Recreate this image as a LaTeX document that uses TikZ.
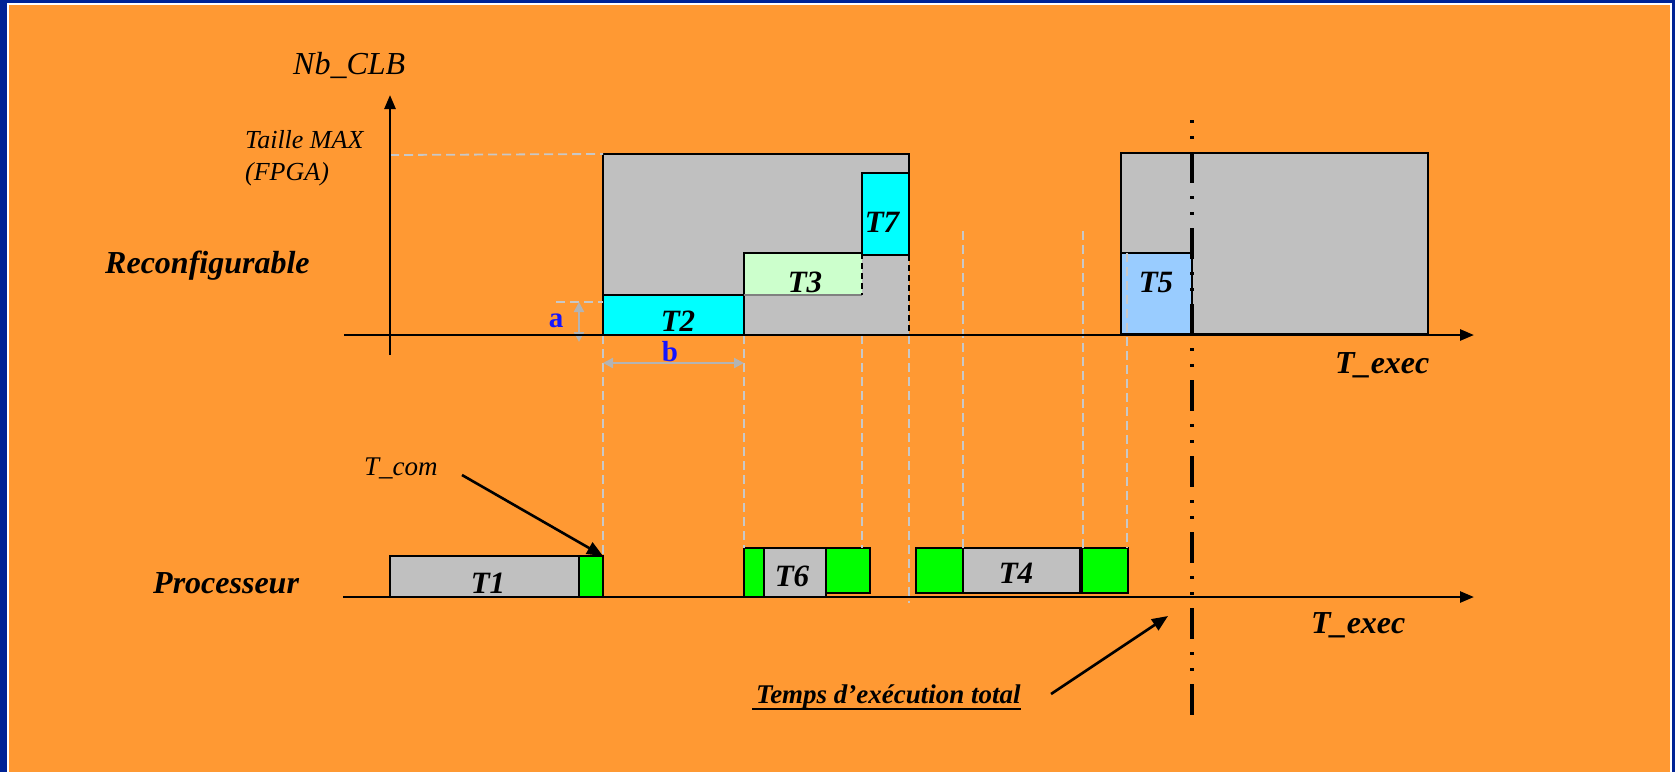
\documentclass[tikz,border=0pt]{standalone}
\usepackage{fontspec}
\setmainfont{Liberation Serif}
\usetikzlibrary{arrows.meta}

\definecolor{bgorange}{HTML}{FF9933}
\definecolor{frameblue}{HTML}{002396}
\definecolor{cellgray}{HTML}{C0C0C0}
\definecolor{comgreen}{HTML}{00FF00}
\definecolor{hwcyan}{HTML}{00FFFF}
\definecolor{palegreen}{HTML}{CCFFCC}
\definecolor{paleblue}{HTML}{99CCFF}
\definecolor{guidegray}{HTML}{C8C8C8}
\definecolor{dimgray}{HTML}{B4B4B4}
\definecolor{dimblue}{HTML}{1414FF}

\tikzset{
  box/.style={draw=black, line width=1.6pt, inner sep=0pt, outer sep=0pt},
  fillonly/.style={inner sep=0pt, outer sep=0pt},
  axisline/.style={line width=2.6pt, -{Triangle[length=14pt,width=11pt]}},
  pointer/.style={line width=2.6pt, -{Triangle[length=16pt,width=13pt]}},
  guide/.style={draw=guidegray, line width=1.8pt, dash pattern=on 9pt off 5pt},
  dimarrow/.style={draw=dimgray, line width=2.2pt,
    {Triangle[length=10pt,width=10pt]}-{Triangle[length=10pt,width=10pt]}},
  tasklabel/.style={inner sep=0pt, font=\fontsize{31}{37}\selectfont\bfseries\itshape},
  titlelabel/.style={inner sep=0pt, anchor=base west, font=\fontsize{#1}{#1}\selectfont\bfseries\itshape},
  italiclabel/.style={inner sep=0pt, anchor=base west, font=\fontsize{#1}{#1}\selectfont\itshape},
  dimlabel/.style={inner sep=0pt, text=dimblue, font=\fontsize{29}{34}\selectfont\bfseries},
}

\begin{document}
\begin{tikzpicture}[x=1pt, y=-1pt]
  % frame and background
  \fill[frameblue] (0,0) rectangle (1675,772);
  \fill[white] (7,3) rectangle (1672,772);
  \fill[bgorange] (9,5) rectangle (1670,772);
  \useasboundingbox (0,0) rectangle (1675,772);

  % ---------- reconfigurable part ----------
  \node[fillonly, fill=cellgray, minimum width=306pt, minimum height=181pt] (fpga1) at (756,244.5) {};
  \node[box, fill=hwcyan, minimum width=141pt, minimum height=40pt] (T2) at (673.5,315) {};
  \node[fillonly, fill=palegreen, minimum width=118pt, minimum height=42pt] (T3) at (803,274) {};
  \node[box, fill=hwcyan, minimum width=47pt, minimum height=82pt] (T7) at (885.5,214) {};
  % outline of the first configuration
  \draw[line width=1.6pt] (fpga1.south west) |- (fpga1.north east) -- (T7.north east);
  \draw[line width=1.6pt, dash pattern=on 6pt off 4pt] (T7.south east) -- (fpga1.south east);
  \draw[line width=1.6pt] (T3.south west) |- (T3.north east);
  \draw[line width=1.2pt, draw=gray] (T3.south west) -- (T3.south east);
  \draw[line width=1.6pt, dash pattern=on 6pt off 4pt] (T3.north east) -- (T3.south east);

  \node[box, fill=cellgray, minimum width=307pt, minimum height=181pt] (fpga2) at (1274.5,243.5) {};
  \node[box, fill=paleblue, minimum width=71pt, minimum height=81pt] (T5) at (1156.5,293.5) {};

  % ---------- processor part ----------
  \node[box, fill=cellgray, minimum width=189pt, minimum height=41pt] (T1) at (484.5,576.5) {};
  \node[box, fill=comgreen, minimum width=24pt, minimum height=41pt] (c1) at (591,576.5) {};
  \node[box, fill=comgreen, minimum width=20pt, minimum height=49pt] (c2) at (754,572.5) {};
  \node[box, fill=cellgray, minimum width=62pt, minimum height=49pt] (T6) at (795,572.5) {};
  \node[box, fill=comgreen, minimum width=44pt, minimum height=45pt] (c3) at (848,570.5) {};
  \node[box, fill=comgreen, minimum width=47pt, minimum height=45pt] (c4) at (939.5,570.5) {};
  \node[box, fill=cellgray, minimum width=117pt, minimum height=45pt] (T4) at (1021.5,570.5) {};
  \node[box, fill=comgreen, minimum width=46pt, minimum height=45pt] (c5) at (1105,570.5) {};

  % task names
  \node[tasklabel] (T2lbl) at (678,321) {T2};
  \node[tasklabel] (T3lbl) at (805,282) {T3};
  \node[tasklabel] (T7lbl) at (882,222) {T7};
  \node[tasklabel] (T5lbl) at (1156,282) {T5};
  \node[tasklabel] (T1lbl) at (488,583) {T1};
  \node[tasklabel] (T6lbl) at (792,576) {T6};
  \node[tasklabel] (T4lbl) at (1016,573) {T4};

  % ---------- guide lines ----------
  \coordinate (ymax) at (390,155);
  \coordinate (aref) at (556,302);
  \draw[guide] (ymax) -- (fpga1.north west);
  \draw[guide] (aref) -- (T2.west |- aref);
  \draw[guide] (T2.south west) -- (c1.north east);
  \draw[guide] (T2.south east) -- (c2.north west);
  \draw[guide] (fpga1.south -| T3.east) -- (c3.north -| T3.east);
  \draw[guide] (fpga1.south east) -- ([yshift=-6pt]fpga1.east |- T1.south);
  \coordinate (g4) at (963,231);
  \coordinate (g5) at (1083,231);
  \coordinate (g6) at (1127,253);
  \draw[guide] (g4) -- (g4 |- c4.north);
  \draw[guide] (g5) -- (g5 |- c5.north);
  \draw[guide] (g6) -- (g6 |- c5.north);

  % dimensions a and b
  \coordinate (atop) at (579,302);
  \coordinate (abot) at (579,342);
  \draw[dimarrow] (atop) -- (abot);
  \draw[dimarrow] ([yshift=-28pt]T2.south west) -- ([yshift=-28pt]T2.south east);
  \node[dimlabel] (alabel) at (556,321) {a};
  \node[dimlabel] (blabel) at (670,352) {b};

  % ---------- axes ----------
  \coordinate (yfoot) at (390,355);
  \coordinate (ytip) at (390,95);
  \coordinate (x1start) at (344,335);
  \coordinate (x1tip) at (1474,335);
  \coordinate (x2start) at (343,597);
  \coordinate (x2tip) at (1474,597);
  \draw[axisline] (yfoot) -- (ytip);
  \draw[axisline] (x1start) -- (x1tip);
  \draw[axisline] (x2start) -- (x2tip);

  % total execution time marker (long dash, dot, dot)
  \coordinate (totaltop) at (1192,112);
  \coordinate (totalbot) at (1192,716);
  \draw[line width=4pt, dash pattern=on 3pt off 13pt on 3pt off 13pt on 31pt off 13pt, dash phase=68pt] (totaltop) -- (totalbot);

  % ---------- texts ----------
  \node[italiclabel=32] (nbclb) at (293,74) {Nb\_CLB};
  \node[italiclabel=26] (tmax) at (245,148) {Taille MAX};
  \node[italiclabel=26] (fpga) at (245,180) {(FPGA)};
  \node[titlelabel=32] (reconf) at (105,273) {Reconfigurable};
  \node[titlelabel=32] (proc) at (153,593) {Processeur};
  \node[titlelabel=32] (texec1) at (1335,373) {T\_exec};
  \node[titlelabel=32] (texec2) at (1311,633) {T\_exec};
  \node[italiclabel=27] (tcom) at (364,475) {T\_com};
  \node[titlelabel=27] (temps) at (756,703) {Temps d’exécution total};
  \draw[line width=2.4pt] ([xshift=-4pt,yshift=-6pt]temps.base west) -- ([yshift=-6pt]temps.base east);

  % pointers
  \coordinate (tcomfrom) at (462,475);
  \draw[pointer] (tcomfrom) -- (c1.north east);
  \coordinate (tempsfrom) at (1051,694);
  \coordinate (tempsto) at (1168,616);
  \draw[pointer] (tempsfrom) -- (tempsto);
\end{tikzpicture}
\end{document}
